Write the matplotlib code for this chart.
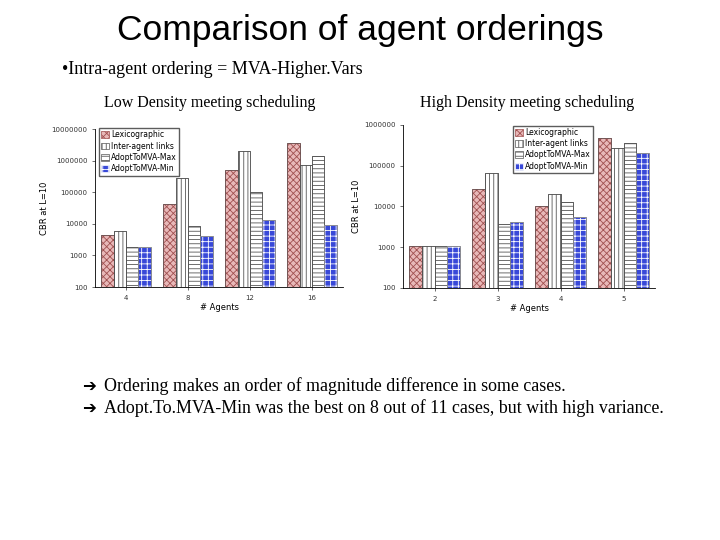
import matplotlib
matplotlib.use("Agg")
import matplotlib.pyplot as plt
import numpy as np

series = ["Lexicographic", "Inter-agent links", "AdoptToMVA-Max", "AdoptToMVA-Min"]

low_agents = ["4", "8", "12", "16"]
low_lexi = [4500, 42000, 500000, 3700000]
low_links = [6000, 280000, 2000000, 720000]
low_max = [1800, 8500, 100000, 1400000]
low_min = [1800, 4200, 13000, 9500]

high_agents = ["2", "3", "4", "5"]
high_lexi = [1100, 27000, 10500, 470000]
high_links = [1100, 68000, 20000, 270000]
high_max = [1100, 3800, 13000, 360000]
high_min = [1100, 4200, 5500, 210000]

plt.rcParams["hatch.linewidth"] = 0.6
styles = [
    dict(facecolor="#e8b8b8", edgecolor="#a05050", hatch="xxxxx"),
    dict(facecolor="white", edgecolor="#555555", hatch="||||"),
    dict(facecolor="white", edgecolor="#555555", hatch="----"),
    dict(facecolor="#3848d8", edgecolor="white", hatch="+++"),
]

W, H = 720, 540
fig = plt.figure(figsize=(7.2, 5.4), dpi=100)


def px_axes(x0, y0, x1, y1):
    return fig.add_axes([x0 / W, 1 - y1 / H, (x1 - x0) / W, (y1 - y0) / H])


def draw(ax, agents, data, ymax, legend_loc, anchor):
    x = np.arange(len(agents))
    bw = 0.2
    handles = []
    for i, (vals, st) in enumerate(zip(data, styles)):
        b = ax.bar(x + (i - 1.5) * bw, vals, bw, linewidth=0.5, label=series[i], **st)
        # outline
        ax.bar(x + (i - 1.5) * bw, vals, bw, fill=False, edgecolor="#444444", linewidth=0.4)
        handles.append(b)
    ax.set_yscale("log")
    ax.set_ylim(100, ymax)
    ax.set_xlim(-0.5, len(agents) - 0.5)
    ax.set_xticks(x)
    ax.set_xticklabels(agents)
    ax.yaxis.set_major_formatter(matplotlib.ticker.FuncFormatter(lambda v, p: "%d" % round(v)))
    ax.yaxis.set_minor_locator(matplotlib.ticker.NullLocator())
    ax.tick_params(labelsize=5, length=2, width=0.5, colors="#333333")
    for s in ["top", "right"]:
        ax.spines[s].set_visible(False)
    for s in ["left", "bottom"]:
        ax.spines[s].set_linewidth(0.6)
    ax.set_xlabel("# Agents", fontsize=6, labelpad=2)
    ax.set_ylabel("CBR at L=10", fontsize=6, labelpad=2)
    ax.legend(handles=handles, loc=legend_loc, bbox_to_anchor=anchor, fontsize=5.5,
              frameon=True, fancybox=False, edgecolor="#333333", handlelength=1.0,
              handleheight=1.0, borderpad=0.3, labelspacing=0.3, handletextpad=0.3)


ax1 = px_axes(95, 129, 343, 287)
draw(ax1, low_agents, [low_lexi, low_links, low_max, low_min], 1e7, "upper left", (0.0, 1.03))
ax2 = px_axes(403, 125, 655, 288)
draw(ax2, high_agents, [high_lexi, high_links, high_max, high_min], 1e6, "upper left", (0.42, 1.02))

fig.text(360 / W, 1 - 31 / H, "Comparison of agent orderings", ha="center", va="center",
         fontsize=25.5, family="Liberation Sans")
fig.text(62 / W, 1 - 70 / H, "•Intra-agent ordering = MVA-Higher.Vars", ha="left", va="center",
         fontsize=13, family="Liberation Serif")
fig.text(210 / W, 1 - 103 / H, "Low Density meeting scheduling", ha="center", va="center",
         fontsize=11.5, family="Liberation Serif")
fig.text(527 / W, 1 - 103 / H, "High Density meeting scheduling", ha="center", va="center",
         fontsize=11.5, family="Liberation Serif")
for yy, txt in [(386, "Ordering makes an order of magnitude difference in some cases."),
                (408, "Adopt.To.MVA-Min was the best on 8 out of 11 cases, but with high variance.")]:
    fig.text(82 / W, 1 - yy / H, "\u2794", ha="left", va="center", fontsize=12, family="DejaVu Sans")
    fig.text(104 / W, 1 - yy / H, txt, ha="left", va="center", fontsize=12.9, family="Liberation Serif")

fig.savefig("out.png", dpi=100)
